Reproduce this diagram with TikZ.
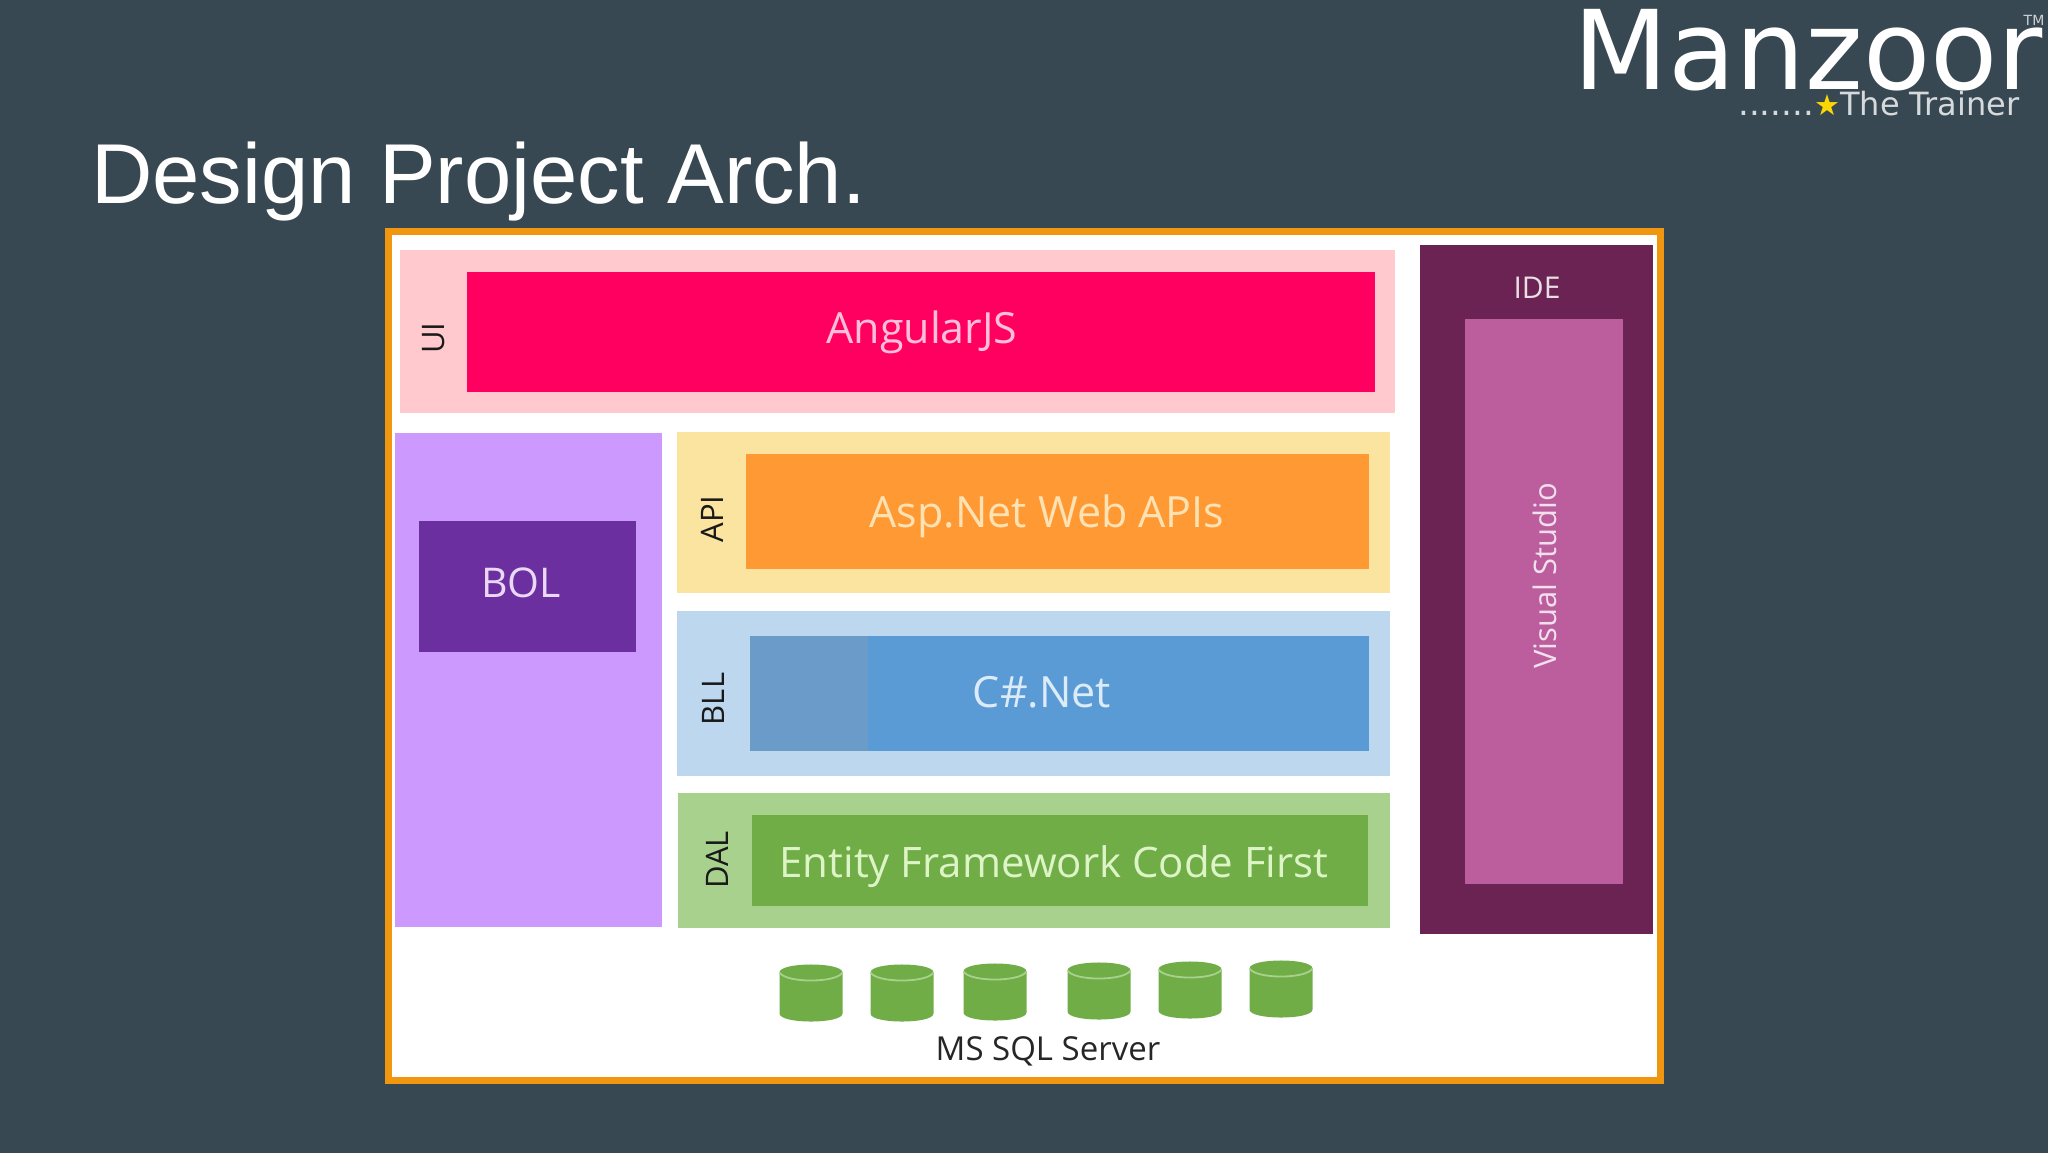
\documentclass[tikz,border=0pt]{standalone}
\usepackage{fontspec}
\usepackage{tikz}
\setmainfont{Open Sans}
\newfontfamily\titlefont{Liberation Sans}
\newfontfamily\logofont{DejaVu Sans}
\definecolor{slidebg}{HTML}{384852}
\definecolor{framecol}{HTML}{F0960F}
\definecolor{uipale}{HTML}{FFC9CE}
\definecolor{uibox}{HTML}{FF0060}
\definecolor{uiword}{HTML}{FFBFD8}
\definecolor{bolpale}{HTML}{CC99FF}
\definecolor{bolbox}{HTML}{6B2FA0}
\definecolor{bolword}{HTML}{EAD8F6}
\definecolor{apipale}{HTML}{FBE4A0}
\definecolor{apibox}{HTML}{FF9933}
\definecolor{apiword}{HTML}{FFE2B4}
\definecolor{bllpale}{HTML}{BDD7EE}
\definecolor{bllbox}{HTML}{5B9BD5}
\definecolor{bllshade}{HTML}{6B9BC8}
\definecolor{bllword}{HTML}{DCEBF8}
\definecolor{dalpale}{HTML}{A9D18E}
\definecolor{dalbox}{HTML}{70AD47}
\definecolor{dalword}{HTML}{DDF4C6}
\definecolor{idedark}{HTML}{6A2352}
\definecolor{idebox}{HTML}{BC5D9E}
\tikzset{
  boxnode/.style={anchor=north west,inner sep=0pt,outer sep=0pt},
  boxtext/.style={inner sep=0pt,font=\fontsize{#1}{#1}\selectfont},
  boxtext/.default=43,
  layername/.style={inner sep=0pt,rotate=90,text=black!90,font=\fontsize{31}{31}\selectfont},
  dbdisk/.pic={
    \fill[dalbox] (-31.5,-20.5) .. controls (-31.5,-31.2) and (31.5,-31.2) .. (31.5,-20.5)
      -- (31.5,20.5) .. controls (31.5,31.2) and (-31.5,31.2) .. (-31.5,20.5) -- cycle;
    \draw[dalpale,line width=1.8pt] (-31.5,-20.5) .. controls (-25,-9.8) and (25,-9.8) .. (31.5,-20.5);
  }
}
\begin{document}
\begin{tikzpicture}[x=1pt,y=-1pt]
  \useasboundingbox (0,0) rectangle (2048,1152);
  \fill[slidebg] (-3,-3) rectangle (2051,1155);
  \node[anchor=base west,inner sep=0pt,text=white,font=\titlefont\fontsize{85}{85}\selectfont] (title) at (91,203) {Design Project Arch.};
  % logo
  \node[anchor=base west,inner sep=0pt,text=white,font=\logofont\fontsize{110}{110}\selectfont] (logoname) at (1573,89) {Manzoor};
  \node[inner sep=0pt,text=white!75!slidebg,font=\logofont\fontsize{14}{14}\selectfont] (logotm) at (2034,20) {TM};
  \node[anchor=base west,inner sep=0pt,text=white!80!slidebg,font=\logofont\fontsize{34}{34}\selectfont] (logodots) at (1738,115) {.......};
  \node[inner sep=0pt,text=yellow!75!orange,font=\logofont\fontsize{29}{29}\selectfont] (logostar) at (1827,105) {★};
  \node[anchor=base west,inner sep=0pt,text=white!80!slidebg,font=\logofont\fontsize{32}{32}\selectfont] (logotrainer) at (1840,115) {The Trainer};
  % frame
  \node[boxnode,draw=framecol,line width=7pt,fill=white,minimum width=1272pt,minimum height=849pt] (frame) at (388.5,231.5) {};
  % UI
  \node[boxnode,fill=uipale,minimum width=995pt,minimum height=163pt] (uipanel) at (400,250) {};
  \node[boxnode,fill=uibox,minimum width=908pt,minimum height=120pt] (uiblock) at (467,272) {};
  \node[layername] (uiname) at (434,338) {UI};
  \node[boxtext,text=uiword] (uitext) at (922,332) {AngularJS};
  % BOL
  \node[boxnode,fill=bolpale,minimum width=267pt,minimum height=494pt] (bolpanel) at (395,433) {};
  \node[boxnode,fill=bolbox,minimum width=217pt,minimum height=131pt] (bolblock) at (419,521) {};
  \node[boxtext=41,text=bolword] (boltext) at (521,583) {BOL};
  % API
  \node[boxnode,fill=apipale,minimum width=713pt,minimum height=161pt] (apipanel) at (677,432) {};
  \node[boxnode,fill=apibox,minimum width=623pt,minimum height=115pt] (apiblock) at (746,454) {};
  \node[layername] (apiname) at (712,519) {API};
  \node[boxtext,text=apiword] (apitext) at (1047,516) {Asp.Net Web APIs};
  % BLL
  \node[boxnode,fill=bllpale,minimum width=713pt,minimum height=165pt] (bllpanel) at (677,611) {};
  \node[boxnode,fill=bllbox,minimum width=619pt,minimum height=115pt] (bllblock) at (750,636) {};
  \node[boxnode,fill=bllshade,minimum width=118pt,minimum height=115pt] (bllshadow) at (750,636) {};
  \node[layername] (bllname) at (713,699) {BLL};
  \node[boxtext,text=bllword] (blltext) at (1042,692) {C\#.Net};
  % DAL
  \node[boxnode,fill=dalpale,minimum width=712pt,minimum height=135pt] (dalpanel) at (678,793) {};
  \node[boxnode,fill=dalbox,minimum width=616pt,minimum height=91pt] (dalblock) at (752,815) {};
  \node[layername] (dalname) at (717,860) {DAL};
  \node[boxtext=42,text=dalword] (daltext) at (1054,867) {Entity Framework Code First};
  % IDE
  \node[boxnode,fill=idedark,minimum width=233pt,minimum height=689pt] (idepanel) at (1420,245) {};
  \node[boxnode,fill=idebox,minimum width=158pt,minimum height=565pt] (ideblock) at (1465,319) {};
  \node[boxtext=30,text=white!85!idedark] (idename) at (1537,288) {IDE};
  \node[boxtext=31,rotate=90,text=white!80!idebox] (idetext) at (1545,576) {Visual Studio};
  % database
  \foreach \i/\x/\y in {1/811/993,2/902/993,3/995/992,4/1099/991,5/1190/990,6/1281/989}{
    \pic (disk\i) at (\x,\y) {dbdisk};
  }
  \node[boxtext=33,text=black!85] (dbname) at (1048,1051) {MS SQL Server};
\end{tikzpicture}
\end{document}
